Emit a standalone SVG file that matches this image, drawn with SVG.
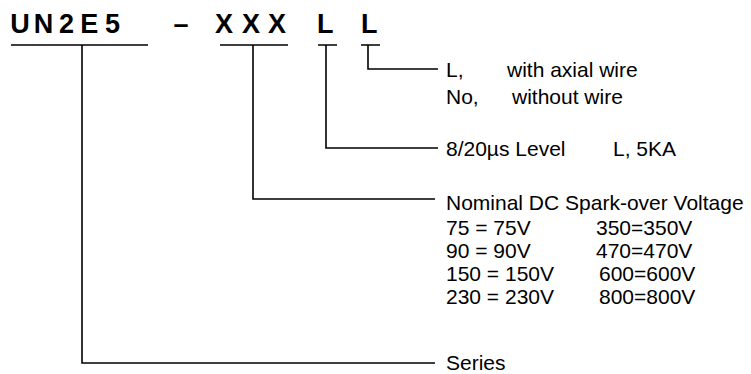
<svg xmlns="http://www.w3.org/2000/svg" width="751" height="374" viewBox="0 0 751 374">
<style>
.t{font-family:"Liberation Sans",Arial,sans-serif;font-size:21px;fill:#000}
.h{font-family:"Liberation Sans",Arial,sans-serif;font-size:27px;font-weight:bold;fill:#000}
.c{fill:none;stroke:#000;stroke-width:1.6}
</style>
<rect width="751" height="374" fill="#fff"/>
<g id="code">
<text class="h" y="33"><tspan x="10.3">U</tspan><tspan x="33.8">N</tspan><tspan x="59">2</tspan><tspan x="80.3">E</tspan><tspan x="105">5</tspan><tspan x="173.5">–</tspan><tspan x="215">X</tspan><tspan x="242">X</tspan><tspan x="268">X</tspan><tspan x="317">L</tspan><tspan x="361">L</tspan></text>
</g>
<g id="connectors">
<path class="c" d="M11 45H148M82 45V363H435"/>
<path class="c" d="M220 45H288M253 45V199H435"/>
<path class="c" d="M318 45H337M326 45V148H438"/>
<path class="c" d="M361 45H380M368 45V69H438"/>
</g>
<g id="wire">
<text class="t" x="446" y="76.5">L,</text>
<text class="t" x="507" y="76.5">with axial wire</text>
<text class="t" x="446" y="104">No,</text>
<text class="t" x="512" y="104">without wire</text>
</g>
<g id="level">
<text class="t" x="446" y="155.5">8/20µs Level</text>
<text class="t" x="613" y="155.5">L, 5KA</text>
</g>
<g id="voltage">
<text class="t" x="446" y="210">Nominal DC Spark-over Voltage</text>
<text class="t" x="446" y="235">75 = 75V</text>
<text class="t" x="596" y="235">350=350V</text>
<text class="t" x="446" y="258">90 = 90V</text>
<text class="t" x="596" y="258">470=470V</text>
<text class="t" x="446" y="281">150 = 150V</text>
<text class="t" x="599" y="281">600=600V</text>
<text class="t" x="446" y="304">230 = 230V</text>
<text class="t" x="599" y="304">800=800V</text>
</g>
<g id="series">
<text class="t" x="446" y="370">Series</text>
</g>
</svg>
